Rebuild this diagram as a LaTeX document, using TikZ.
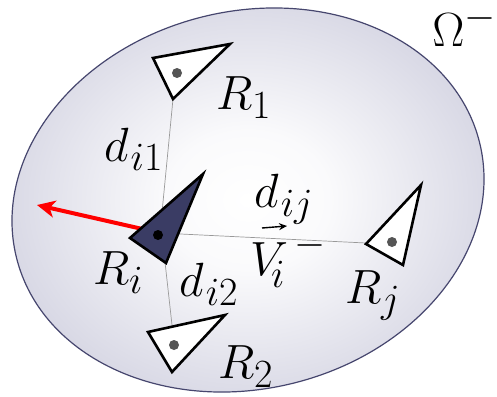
\documentclass[tikz,border=0pt]{standalone}
\usetikzlibrary{arrows.meta}
\definecolor{lav}{RGB}{194,194,214}
\definecolor{edgec}{RGB}{70,70,110}
\definecolor{navyc}{RGB}{58,60,100}
\definecolor{dotg}{RGB}{85,85,85}
\pgfdeclareradialshading{blob}{\pgfpoint{0bp}{0bp}}{color(0bp)=(white); color(8bp)=(white!92!lav); color(30bp)=(lav!85!white); color(50bp)=(lav)}
\tikzset{
  lab/.style={anchor=base west, inner sep=0pt, font=\Huge, scale=1.93, transform shape},
  rtri/.style={draw=black, line width=2.6pt, fill=white, line join=miter},
  itri/.style={draw=black, line width=2.6pt, fill=navyc, line join=miter},
  guide/.style={draw=gray!80, line width=0.7pt},
}
\begin{document}
\begin{tikzpicture}[x=1pt,y=-1pt]
\useasboundingbox (0,0) rectangle (497,396);
% region
\draw[edgec, line width=1.2pt, shading=blob, rotate around={14:(248,200)}]
  (248,200) ellipse [x radius=238.6pt, y radius=188.7pt];
% named points
\coordinate (ci) at (160,233);
\coordinate (r1b) at (173,99);
\coordinate (r2t) at (172,325);
\coordinate (rjl) at (366,243);
\coordinate (ib) at (165,262);
% guide lines
\draw[guide] (r1b) -- (ci);
\draw[guide] (ib) -- (r2t);
\draw[guide] (ci) -- (rjl);
% red arrow
\coordinate (at) at (37,205);
\draw[red, line width=4pt, -{Stealth[length=18pt,width=17pt,inset=5pt]}] (ci) -- (at);
% triangles
\draw[rtri] (153,58) -- (230,44) -- (r1b) -- cycle;
\fill[dotg] (177,73) circle (5pt);
\draw[rtri] (148,332) -- (225,315) -- (172,372) -- cycle;
\fill[dotg] (174,345) circle (5pt);
\draw[rtri] (421,185) -- (366,244) -- (403,265) -- cycle;
\fill[dotg] (392,242) circle (5pt);
\draw[itri] (203,174) -- (130,238) -- (166,263) -- cycle;
\fill[black] (158,235) circle (5pt);
% labels
\node[lab] (lr1) at (216,109) {$R_{1}$};
\node[lab] (lr2) at (218,378) {$R_{2}$};
\node[lab] (lri) at (93,284) {$R_{i}$};
\node[lab] (lrj) at (345,303) {$R_{j}$};
\node[lab] (ld1) at (104,161) {$d_{\kern1pt i1}$};
\node[lab] (ld2) at (179,296) {$d_{\kern1pt i2}$};
\node[lab] (ldj) at (254,207) {$d_{\kern1pt ij}$};
\node[lab] (lv) at (250,275) {$V_{\!i}^{\,-}$};
\coordinate (va) at (262,228);
\coordinate (vb) at (287,226);
\draw[black, line width=1.4pt, -{Stealth[length=8pt,width=7pt]}] (va) -- (vb);
\node[lab] (lom) at (432,46) {$\Omega^{-}$};
\end{tikzpicture}
\end{document}
